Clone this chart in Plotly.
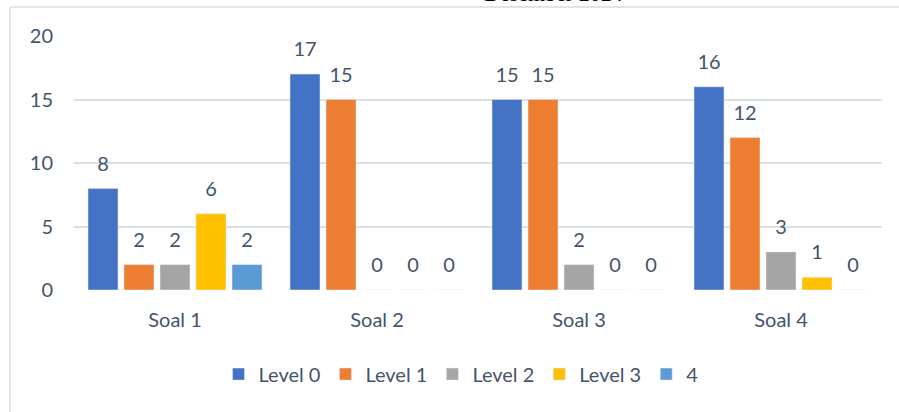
import plotly.graph_objects as go

categories = ["Soal 1", "Soal 2", "Soal 3", "Soal 4"]
series_names = ["Level 0", "Level 1", "Level 2", "Level 3", "4"]
level0 = [8, 17, 15, 16]
level1 = [2, 15, 15, 12]
level2 = [2, 0, 2, 3]
level3 = [6, 0, 0, 1]
level4 = [2, 0, 0, 0]
series_values = [level0, level1, level2, level3, level4]
colors = ["#4472C4", "#ED7D31", "#A5A5A5", "#FFC000", "#5B9BD5"]
y_ticks = [0, 5, 10, 15, 20]

TEXT = "#44546A"
FONT = "Lato"
BARGAP = 0.109

fig = go.Figure()
for name, vals, col in zip(series_names, series_values, colors):
    fig.add_trace(go.Bar(
        x=categories, y=vals, name=name, marker_color=col,
        offsetgroup=name, hoverinfo="skip",
    ))
for name, vals in zip(series_names, series_values):
    fig.add_trace(go.Scatter(
        x=categories, y=vals, mode="markers+text", text=[str(v) for v in vals],
        textposition="top center", textfont=dict(family=FONT, size=20, color=TEXT),
        marker=dict(size=19, color="rgba(0,0,0,0)"), offsetgroup=name,
        showlegend=False, hoverinfo="skip", cliponaxis=False,
    ))

fig.update_layout(
    width=899, height=412,
    margin=dict(l=74, r=17, t=36, b=122),
    paper_bgcolor="white", plot_bgcolor="white",
    barmode="group", bargap=BARGAP, bargroupgap=0.167,
    scattermode="group", scattergap=BARGAP,
    font=dict(family=FONT, size=20, color=TEXT),
    showlegend=True,
    legend=dict(orientation="h", x=0.479, xanchor="center", y=-0.331, yanchor="middle",
                font=dict(family=FONT, size=20, color=TEXT), itemwidth=30,
                traceorder="normal", bgcolor="rgba(0,0,0,0)"),
    xaxis=dict(showgrid=False, zeroline=False, showline=False, ticks="",
               ticklabelstandoff=16, tickfont=dict(family=FONT, size=20, color=TEXT)),
    yaxis=dict(range=[0, 20], tickvals=y_ticks, showgrid=True, gridcolor="#DCE0E6",
               gridwidth=1.5, zeroline=False, showline=False, ticks="",
               ticklabelstandoff=20, tickfont=dict(family=FONT, size=20, color=TEXT)),
    shapes=[
        dict(type="line", xref="paper", yref="paper", x0=-0.0792, x1=-0.0792,
             y0=1.114, y1=-0.5, line=dict(color="#E1E5EB", width=2)),
        dict(type="line", xref="paper", yref="paper", x0=-0.0792, x1=1.03,
             y0=1.114, y1=1.114, line=dict(color="#E1E5EB", width=2)),
    ],
    annotations=[
        dict(text="Desember 2024", xref="paper", yref="paper", x=0.593, y=1.111,
             xanchor="center", yanchor="bottom", showarrow=False,
             font=dict(family="Liberation Serif", size=22, color="black")),
    ],
)

fig.write_html("out.html")
